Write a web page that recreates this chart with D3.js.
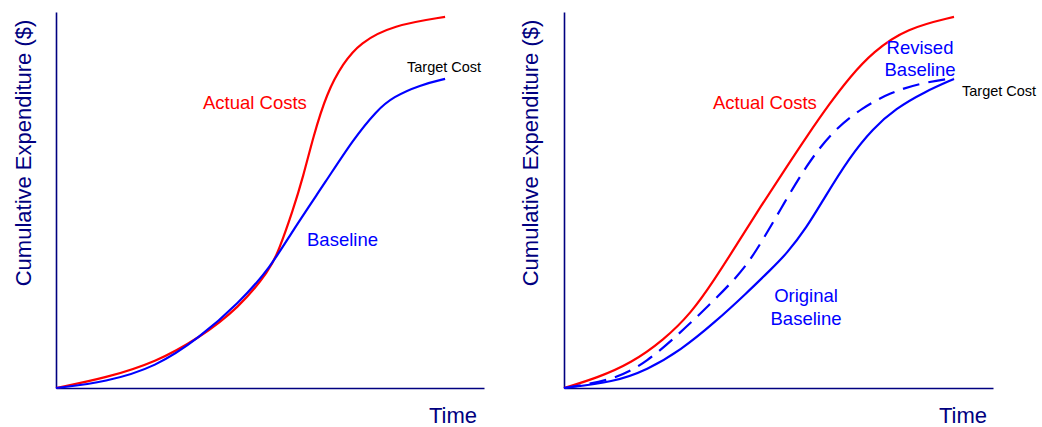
<!DOCTYPE html>
<html>
<head>
<meta charset="utf-8">
<script src="https://cdn.jsdelivr.net/npm/d3@7"></script>
<style>
  html, body { margin: 0; padding: 0; background: #fff; }
  svg { display: block; font-family: "Liberation Sans", Arial, sans-serif; }
</style>
</head>
<body>
<svg id="chart" width="1042" height="427"></svg>
<script>
// Time runs 0..100 (project end), cost runs 0..100 (% of full axis height)
const timeDomain = [0, 110];
const costDomain = [0, 100];

// Left panel: overrun relative to the baseline
const leftBaselineT = [0, 12.9, 25.7, 36.8, 47.0, 55.0, 60.9, 69.6, 76.3, 82.5, 86.6, 93.6, 100];
const leftBaselineC = [0, 1.6, 5.6, 13.3, 22.6, 31.9, 42.0, 55.3, 66.0, 73.9, 77.4, 80.6, 82.2];
const leftActualT = [0, 12.9, 25.7, 36.8, 47.0, 55.0, 57.3, 60.9, 63.5, 66.1, 69.6, 73.8, 78.1, 86.6, 100];
const leftActualC = [0, 2.7, 6.9, 13.3, 21.3, 31.4, 36.7, 47.3, 56.1, 66.8, 78.5, 86.4, 91.8, 96.5, 98.7];

// Right panel: original vs. revised baseline
const rightActualT = [0, 8.5, 17.2, 25.6, 32.6, 38.5, 44.4, 50.5, 56.7, 62.3, 68.2, 73.3, 79.2, 87.9, 100];
const rightActualC = [0, 2.7, 6.6, 12.8, 19.9, 28.7, 38.3, 48.4, 58.2, 67.0, 75.8, 82.7, 89.4, 95.7, 98.7];
const revisedT = [0, 12.8, 21.3, 30.0, 36.7, 44.4, 49.0, 55.5, 62.3, 69.0, 76.7, 83.6, 91.3, 100];
const revisedC = [0, 2.1, 6.9, 14.9, 21.5, 29.5, 35.8, 47.5, 59.5, 68.5, 74.7, 78.5, 81.1, 82.4];
const originalT = [0, 12.8, 21.3, 30.0, 38.5, 46.9, 53.1, 57.0, 62.3, 66.6, 73.3, 79.2, 85.0, 92.5, 100];
const originalC = [0, 1.6, 4.8, 10.1, 17.3, 25.3, 31.6, 35.6, 42.8, 50.3, 61.5, 69.0, 74.3, 78.8, 82.2];

const zip = (t, c) => t.map((v, i) => [v, c[i]]);

const RED = "#ff0000", BLUE = "#0000ff", NAVY = "#000080";

const svg = d3.select("#chart");

function panel(opts) {
  const x = d3.scaleLinear().domain(timeDomain).range([opts.x0, opts.x1]);
  const y = d3.scaleLinear().domain(costDomain).range([opts.y0, opts.y1]);
  const g = svg.append("g");

  // axes: plain lines, no ticks
  const xAxis = d3.axisBottom(x).tickValues([]).tickSizeOuter(0);
  const yAxis = d3.axisLeft(y).tickValues([]).tickSizeOuter(0);
  g.append("g").attr("transform", `translate(0,${opts.y0})`).call(xAxis)
    .select(".domain").attr("stroke", NAVY).attr("stroke-width", 1.6);
  g.append("g").attr("transform", `translate(${opts.x0},0)`).call(yAxis)
    .select(".domain").attr("stroke", NAVY).attr("stroke-width", 1.6);

  const line = d3.line().x(d => x(d[0])).y(d => y(d[1])).curve(d3.curveBasis);

  opts.series.forEach(s => {
    g.append("path")
      .datum(s.data)
      .attr("d", line)
      .attr("fill", "none")
      .attr("stroke", s.color)
      .attr("stroke-width", 2.2)
      .attr("stroke-dasharray", s.dash || null)
      .attr("stroke-linecap", "butt");
  });

  // axis titles
  g.append("text")
    .attr("transform", `translate(${opts.yTitleX},${opts.yTitleY}) rotate(-90)`)
    .attr("text-anchor", "middle")
    .attr("fill", NAVY)
    .attr("font-size", 22)
    .text("Cumulative Expenditure ($)");
  g.append("text")
    .attr("x", opts.timeX).attr("y", 423)
    .attr("text-anchor", "end")
    .attr("fill", NAVY)
    .attr("font-size", 22)
    .text("Time");

  opts.labels.forEach(l => {
    const t = g.append("text")
      .attr("x", l.x).attr("y", l.y)
      .attr("text-anchor", l.anchor || "start")
      .attr("fill", l.color)
      .attr("font-size", l.size);
    l.lines.forEach((txt, i) => {
      t.append("tspan").attr("x", l.x).attr("dy", i === 0 ? 0 : l.lh).text(txt);
    });
  });
}

panel({
  x0: 56, x1: 484, y0: 388, y1: 12,
  yTitleX: 31, yTitleY: 153, timeX: 477,
  series: [
    { data: zip(leftActualT, leftActualC), color: RED },
    { data: zip(leftBaselineT, leftBaselineC), color: BLUE }
  ],
  labels: [
    { lines: ["Actual Costs"], x: 203, y: 109, color: RED, size: 18.5 },
    { lines: ["Baseline"], x: 307, y: 246, color: BLUE, size: 18.5 },
    { lines: ["Target Cost"], x: 407, y: 72, color: "#000", size: 14.5 }
  ]
});

panel({
  x0: 564, x1: 993, y0: 388, y1: 12,
  yTitleX: 538, yTitleY: 153, timeX: 987,
  series: [
    { data: zip(rightActualT, rightActualC), color: RED },
    { data: zip(revisedT, revisedC), color: BLUE, dash: "17,9" },
    { data: zip(originalT, originalC), color: BLUE }
  ],
  labels: [
    { lines: ["Actual Costs"], x: 713, y: 109, color: RED, size: 18.5 },
    { lines: ["Revised", "Baseline"], x: 920, y: 54, color: BLUE, size: 18.5, anchor: "middle", lh: 22 },
    { lines: ["Original", "Baseline"], x: 806, y: 302, color: BLUE, size: 18.5, anchor: "middle", lh: 23 },
    { lines: ["Target Cost"], x: 962, y: 96, color: "#000", size: 14.5 }
  ]
});
</script>
</body>
</html>
